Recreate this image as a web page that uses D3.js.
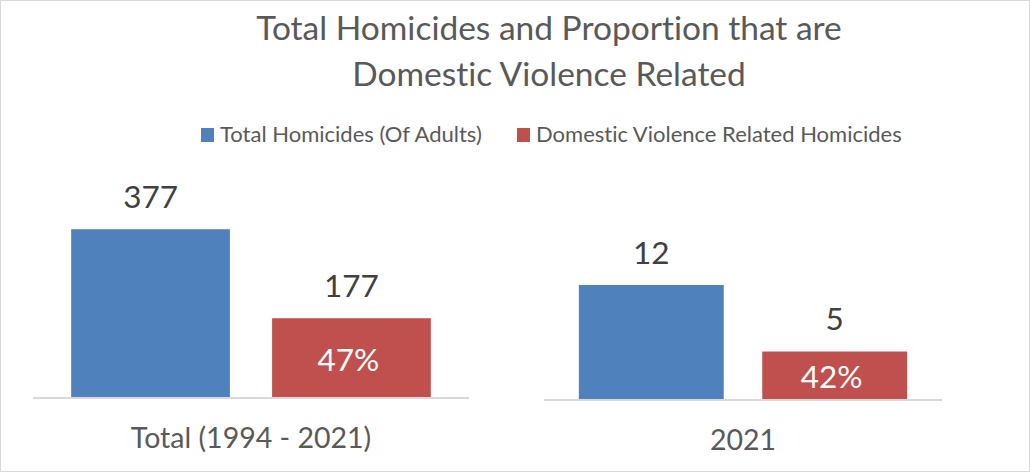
<!DOCTYPE html>
<meta charset="utf-8" />
<style>
  body {
    margin: 0;
    background: #fff;
  }
  text {
    font-family: Lato, "Open Sans", sans-serif;
    font-variant-ligatures: none;
    font-feature-settings: "liga" 0, "dlig" 0;
  }
</style>

<body>
  <div id="chart"></div>
  <script src="https://cdn.jsdelivr.net/npm/d3@7"></script>
  <script>
    // values
    const categories = ["Total (1994 - 2021)", "2021"];
    const series = ["Total Homicides (Of Adults)", "Domestic Violence Related Homicides"];
    const totalHomicides = [377, 12];
    const dvHomicides = [177, 5];
    const dvShare = ["47%", "42%"];
    const colors = ["#4f81bd", "#c0504d"];

    const width = 1031;
    const height = 473;

    const svg = d3.select("#chart").append("svg").attr("width", width).attr("height", height);

    svg
      .append("rect")
      .attr("x", 0.5)
      .attr("y", 0.5)
      .attr("width", width - 2)
      .attr("height", height - 2)
      .attr("fill", "#fff")
      .attr("stroke", "#d9d9d9");

    // title
    const title = svg
      .append("text")
      .attr("x", 549)
      .attr("y", 40)
      .attr("text-anchor", "middle")
      .attr("fill", "#595959")
      .attr("font-size", "33.5px");
    title.append("tspan").attr("x", 549).text("Total Homicides and Proportion that are");
    title.append("tspan").attr("x", 549).attr("dy", 46).text("Domestic Violence Related");

    // legend
    const legendX = [201, 517];
    const legend = svg
      .selectAll("g.legend")
      .data(series)
      .enter()
      .append("g")
      .attr("class", "legend")
      .attr("transform", (d, i) => "translate(" + legendX[i] + ",128)");
    legend
      .append("rect")
      .attr("width", 13)
      .attr("height", 14)
      .attr("fill", (d, i) => colors[i]);
    legend
      .append("text")
      .attr("x", 19)
      .attr("y", 14)
      .attr("fill", "#595959")
      .attr("font-size", "22px")
      .text((d) => d);

    // each category is its own little chart with its own scale
    const panels = [
      { x0: 33, x1: 469, base: 397, max: 400, top: 219 },
      { x0: 544, x1: 942, base: 399, max: 14, top: 266 },
    ];

    panels.forEach((p, i) => {
      const g = svg.append("g");
      const x = d3.scaleBand().domain(series).range([p.x0, p.x1]).paddingInner(0.21).paddingOuter(0.19);
      const y = d3.scaleLinear().domain([0, p.max]).range([p.base, p.top]);
      const vals = [totalHomicides[i], dvHomicides[i]];

      g.selectAll("rect")
        .data(vals)
        .enter()
        .append("rect")
        .attr("x", (d, j) => x(series[j]))
        .attr("y", (d) => y(d))
        .attr("width", x.bandwidth())
        .attr("height", (d) => y(0) - y(d))
        .attr("fill", (d, j) => colors[j]);

      g.selectAll("text.val")
        .data(vals)
        .enter()
        .append("text")
        .attr("class", "val")
        .attr("x", (d, j) => x(series[j]) + x.bandwidth() / 2)
        .attr("y", (d) => y(d) - 21.5)
        .attr("text-anchor", "middle")
        .attr("fill", "#404040")
        .attr("font-size", "31.5px")
        .text((d) => d);

      g.append("text")
        .attr("x", x(series[1]) + x.bandwidth() / 2 - 3)
        .attr("y", (y(0) + y(dvHomicides[i])) / 2 + 13)
        .attr("text-anchor", "middle")
        .attr("fill", "#fff")
        .attr("font-size", "31.5px")
        .text(dvShare[i]);

      g.append("line")
        .attr("x1", p.x0)
        .attr("x2", p.x1)
        .attr("y1", p.base + 1)
        .attr("y2", p.base + 1)
        .attr("stroke", "#d9d9d9")
        .attr("stroke-width", 2);

      g.append("text")
        .attr("x", (p.x0 + p.x1) / 2)
        .attr("y", p.base + 51)
        .attr("text-anchor", "middle")
        .attr("fill", "#595959")
        .attr("font-size", "28.5px")
        .text(categories[i]);
    });
  </script>
</body>
